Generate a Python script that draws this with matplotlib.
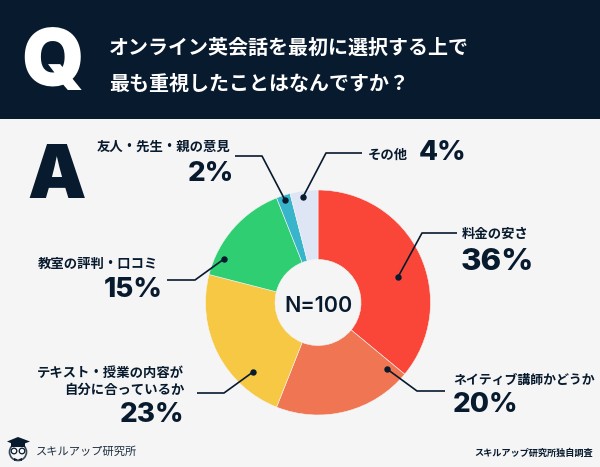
import matplotlib
matplotlib.use("Agg")
import matplotlib.pyplot as plt
from matplotlib.patches import Rectangle, Polygon, Circle

plt.rcParams["font.family"] = ["Inter", "Noto Sans CJK JP", "DejaVu Sans"]

W, H = 600, 467
NAVY = "#081a2e"
BG = "#f5f5f5"

## Data
labels = ["料金の安さ", "ネイティブ講師かどうか", "テキスト・授業の内容が\n自分に合っているか",
          "教室の評判・口コミ", "友人・先生・親の意見", "その他"]
values = [36, 20, 23, 15, 2, 4]
colors = ["#f94638", "#f07552", "#f6c843", "#30ce72", "#38b4cb", "#dee5f4"]

fig = plt.figure(figsize=(W / 100, H / 100), dpi=100, facecolor=BG)

# overlay in pixel coords
ax = fig.add_axes([0, 0, 1, 1])
ax.set_xlim(0, W)
ax.set_ylim(H, 0)
ax.axis("off")
ax.add_patch(Rectangle((0, 0), W, 119, color=NAVY, lw=0))

## Donut
cx, cy, r = 318, 302.5, 112.5
ax_pie = fig.add_axes([(cx - r) / W, (H - cy - r) / H, 2 * r / W, 2 * r / H])
ax_pie.pie(values, colors=colors, startangle=90, counterclock=False, radius=1,
           wedgeprops=dict(width=1 - 43 / r, edgecolor="#f5f5f5", linewidth=0.4))
ax_pie.set_xlim(-1, 1)
ax_pie.set_ylim(-1, 1)
ax_pie.text(0, -0.035, "N=100", ha="center", va="center", fontsize=15.5, color=NAVY, fontweight="semibold")

## Header
ax.text(21, 86, "Q", fontsize=57, fontweight="black", color="white", ha="left", va="baseline")
ax.text(27, 198, "A", fontsize=53, fontweight="black", color=NAVY, ha="left", va="baseline")
ax.text(109, 48, "オンライン英会話を最初に選択する上で", fontsize=14.4, color="white", fontweight="bold", va="center")
ax.text(109, 84, "最も重視したことはなんですか？", fontsize=14.4, color="white", fontweight="bold", va="center")

## Labels
def pct(v):
  return str(v) + "%"

lab = dict(fontsize=9.6, color=NAVY, fontweight="bold", va="center")
big = dict(fontsize=20, color=NAVY, fontweight="heavy", va="baseline")

ax.text(462, 234.5, labels[0], ha="left", **lab)
ax.text(461, 270, pct(values[0]), ha="left", **{**big, "fontsize": 22.5})
ax.text(453, 380.5, labels[1], ha="left", **{**lab, "fontsize": 9.3})
ax.text(453, 412, pct(values[1]), ha="left", **big)
line1, line2 = labels[2].split("\n")
ax.text(184, 373.5, line1, ha="right", **lab)
ax.text(184, 390.5, line2, ha="right", **lab)
ax.text(184, 422, pct(values[2]), ha="right", **big)
ax.text(158, 264.5, labels[3], ha="right", **lab)
ax.text(163, 297, pct(values[3]), ha="right", **big)
ax.text(230, 147.5, labels[4], ha="right", **lab)
ax.text(234, 181, pct(values[4]), ha="right", **big)
ax.text(368, 155.5, labels[5], ha="left", **lab)
ax.text(419, 160, pct(values[5]), ha="left", **big)

## Leader lines
leaders = [
  [(398, 277), (422, 233), (457, 233)],
  [(387, 369), (417, 391), (445, 391)],
  [(253, 372), (224, 393), (197, 393)],
  [(224, 259), (195, 280), (167, 280)],
  [(285, 200), (262, 156), (235, 156)],
  [(303, 197), (326, 153), (362, 153)],
]
# drawn in a top axes so they sit over the donut
ax_top = fig.add_axes([0, 0, 1, 1], facecolor="none")
ax_top.set_xlim(0, W)
ax_top.set_ylim(H, 0)
ax_top.axis("off")
for pts in leaders:
  xs = [p[0] for p in pts]
  ys = [p[1] for p in pts]
  ax_top.plot(xs, ys, color=NAVY, lw=1.2, solid_capstyle="butt")
  ax_top.plot(xs[0], ys[0], "o", color=NAVY, ms=3.6)

## Footer
ax_top.text(593, 453.5, "スキルアップ研究所独自調査", ha="right", va="center", fontsize=6.6, color=NAVY, fontweight="bold")
ax_top.text(36, 451.5, "スキルアップ研究所", ha="left", va="center", fontsize=8.1, color="#1c2e40")

# owl logo
ax_top.add_patch(Circle((18, 452), 8.5, fc=BG, ec="#33475a", lw=1.2))
ax_top.add_patch(Polygon([(7, 441.5), (18, 437), (30, 441.5), (18, 446)], fc=NAVY, lw=0))
ax_top.add_patch(Rectangle((11, 443), 14, 4, fc=NAVY, lw=0))
ax_top.add_patch(Circle((14, 451), 2.8, fc=BG, ec=NAVY, lw=0.9))
ax_top.add_patch(Circle((22, 451), 2.8, fc=BG, ec=NAVY, lw=0.9))
ax_top.add_patch(Polygon([(14, 458), (18, 459.5), (22, 458), (22, 461), (18, 459.5), (14, 461)], fc=NAVY, lw=0))

fig.savefig("out.png", dpi=100, facecolor=BG)
